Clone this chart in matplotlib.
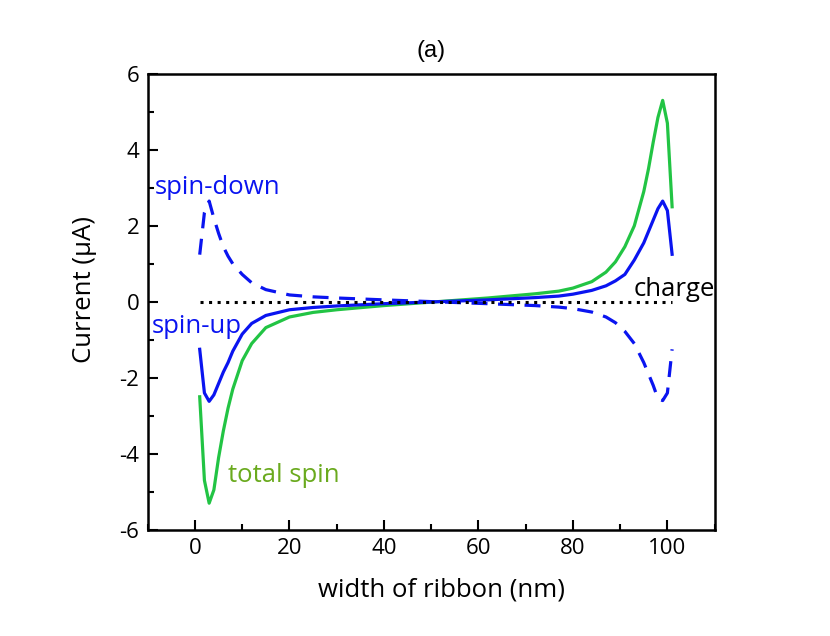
import numpy as np
import matplotlib
matplotlib.use('Agg')
import matplotlib.pyplot as plt
from matplotlib.ticker import MultipleLocator

plt.rcParams['font.family'] = ['Open Sans', 'DejaVu Sans']
plt.rcParams['axes.unicode_minus'] = False

# position across the ribbon (nm)
width = [1, 2, 3, 4, 5, 6, 7, 8, 10, 12, 15, 20, 25, 30, 40, 51,
         62, 72, 77, 80, 84, 87, 89, 91, 93, 95, 96, 97, 98, 99, 100, 101]

# total spin current (uA)
total_spin = [-2.5, -4.7, -5.3, -4.95, -4.1, -3.4, -2.8, -2.3, -1.55, -1.1, -0.68,
              -0.4, -0.28, -0.21, -0.1, 0.0,
              0.1, 0.21, 0.28, 0.36, 0.53, 0.78, 1.05, 1.45, 2.0, 2.9, 3.5, 4.2,
              4.85, 5.3, 4.7, 2.5]

# spin-up current (uA)
spin_up = [-1.25, -2.4, -2.62, -2.45, -2.15, -1.85, -1.6, -1.3, -0.85, -0.57, -0.36,
           -0.21, -0.15, -0.11, -0.05, 0.0,
           0.05, 0.11, 0.15, 0.2, 0.3, 0.42, 0.55, 0.72, 1.1, 1.55, 1.85, 2.15,
           2.45, 2.65, 2.4, 1.25]

# spin-down current (uA)
spin_down = [1.24, 2.35, 2.65, 2.2, 1.8, 1.45, 1.2, 1.0, 0.72, 0.5, 0.32,
             0.18, 0.13, 0.1, 0.05, 0.0,
             -0.05, -0.1, -0.14, -0.18, -0.27, -0.4, -0.55, -0.78, -1.1, -1.6, -1.9,
             -2.2, -2.55, -2.6, -2.4, -1.25]

# charge current (uA)
charge = [0.0] * len(width)

fig = plt.figure(figsize=(8.3, 6.36), dpi=100)
ax = fig.add_axes([0.178, 0.167, 0.683, 0.717])

blue = '#0a14f0'
green = '#22c444'
ax.plot(width, total_spin, color=green, lw=2.3)
ax.plot(width, spin_up, color=blue, lw=2.3)
ax.plot(width, spin_down, color=blue, lw=2.3, linestyle=(0, (5, 3.3)))
ax.plot(width, charge, color='black', lw=2.2, linestyle=(0, (1, 1.8)))

ax.set_xlim(-10, 110)
ax.set_ylim(-6, 6)
ax.xaxis.set_major_locator(MultipleLocator(20))
ax.xaxis.set_minor_locator(MultipleLocator(10))
ax.yaxis.set_major_locator(MultipleLocator(2))
ax.yaxis.set_minor_locator(MultipleLocator(1))
ax.tick_params(which='both', direction='in', top=False, right=False,
               labelsize=16, width=1.5)
ax.tick_params(which='major', length=7, pad=6)
ax.tick_params(which='minor', length=4)
for s in ax.spines.values():
    s.set_linewidth(1.8)

ax.set_xlabel('width of ribbon (nm)', fontsize=18.5, labelpad=14)
ax.xaxis.set_label_coords(0.519, -0.105)
ax.set_ylabel('Current (\u03bcA)', fontsize=18.5)
ax.yaxis.set_label_coords(-0.09, 0.526)
ax.set_title('(a)', fontsize=17, pad=12, family=['Liberation Sans', 'DejaVu Sans'])

ax.text(-8.5, 2.84, 'spin-down', color=blue, fontsize=18.5)
ax.text(-9.1, -0.82, 'spin-up', color=blue, fontsize=18.5)
ax.text(7.0, -4.74, 'total spin', color='#6aaa1e', fontsize=18.5)
ax.text(92.8, 0.16, 'charge', color='black', fontsize=18.5)

fig.savefig('out.png', dpi=100)
